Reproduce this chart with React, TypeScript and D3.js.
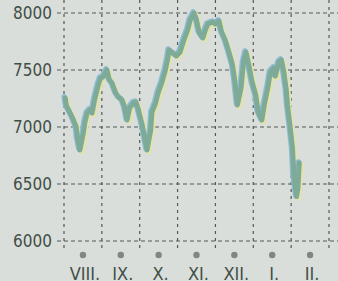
import React, { useRef, useEffect } from 'react';
import * as d3 from 'd3';

const months = ['VIII.', 'IX.', 'X.', 'XI.', 'XII.', 'I.', 'II.'];
const monthStarts = ['2010-08-01', '2010-09-01', '2010-10-01', '2010-11-01', '2010-12-01', '2011-01-01', '2011-02-01', '2011-03-01'];
const yTicks = [6000, 6500, 7000, 7500, 8000];

const dates = [
  '2010-08-02', '2010-08-03', '2010-08-06', '2010-08-08', '2010-08-11', '2010-08-12', '2010-08-14',
  '2010-08-17', '2010-08-18', '2010-08-20', '2010-08-22', '2010-08-24', '2010-08-26', '2010-08-29',
  '2010-08-31', '2010-09-02', '2010-09-04', '2010-09-05', '2010-09-07', '2010-09-09', '2010-09-12',
  '2010-09-14', '2010-09-17', '2010-09-19', '2010-09-21', '2010-09-23', '2010-09-26', '2010-09-28',
  '2010-09-30', '2010-10-03', '2010-10-05', '2010-10-07', '2010-10-10', '2010-10-11', '2010-10-14',
  '2010-10-16', '2010-10-19', '2010-10-22', '2010-10-24', '2010-10-25', '2010-10-28', '2010-10-31',
  '2010-11-03', '2010-11-06', '2010-11-09', '2010-11-11', '2010-11-14', '2010-11-16', '2010-11-18',
  '2010-11-21', '2010-11-23', '2010-11-25', '2010-11-29', '2010-12-01', '2010-12-04', '2010-12-06',
  '2010-12-09', '2010-12-12', '2010-12-15', '2010-12-17', '2010-12-19', '2010-12-22', '2010-12-24',
  '2010-12-26', '2010-12-28', '2010-12-31', '2011-01-03', '2011-01-05', '2011-01-08', '2011-01-10',
  '2011-01-13', '2011-01-15', '2011-01-18', '2011-01-19', '2011-01-22', '2011-01-24', '2011-01-26',
  '2011-01-28', '2011-01-29', '2011-01-31', '2011-02-02', '2011-02-03', '2011-02-05', '2011-02-06',
  '2011-02-07',
];
const values = [
  7255, 7184, 7123, 7079, 7000, 6904, 6798,
  6956, 7035, 7123, 7149, 7123, 7237, 7368,
  7430, 7439, 7482, 7500, 7412, 7386, 7298,
  7263, 7237, 7175, 7061, 7167, 7211, 7219,
  7149, 7018, 6912, 6798, 6974, 7132, 7211,
  7298, 7386, 7500, 7605, 7675, 7649, 7623,
  7658, 7763, 7851, 7939, 8000, 7939, 7833,
  7781, 7851, 7904, 7921, 7904, 7930, 7833,
  7763, 7658, 7544, 7395, 7193, 7342, 7570,
  7658, 7561, 7395, 7281, 7132, 7061, 7193,
  7351, 7482, 7518, 7447, 7570, 7588, 7482,
  7325, 7193, 7018, 6816, 6579, 6390, 6465,
  6684,
];

// position in months, counted from the start of VIII.
const monthPos = (s: string) => {
  const d = new Date(s + 'T00:00:00');
  const first = new Date(monthStarts[0] + 'T00:00:00');
  const idx = (d.getFullYear() - first.getFullYear()) * 12 + d.getMonth() - first.getMonth();
  const days = new Date(d.getFullYear(), d.getMonth() + 1, 0).getDate();
  return idx + (d.getDate() - 1) / days;
};

const W = 338;
const H = 281;

const App = () => {
  const ref = useRef<SVGSVGElement>(null);

  useEffect(() => {
    document.body.style.margin = '0';
    const svg = d3.select(ref.current);
    svg.selectAll('*').remove();

    const x = d3.scaleLinear().domain([0, monthStarts.length - 1]).range([64, 329]);
    const y = d3.scaleLinear().domain([6000, 8000]).range([241, 13]);
    const textColor = '#414e47';
    const font = '"Liberation Sans Narrow", "DejaVu Sans Condensed", sans-serif';

    svg.append('rect').attr('width', W).attr('height', H).attr('fill', '#dadedb');

    // horizontal grid
    svg.append('g')
      .selectAll('line')
      .data(yTicks)
      .join('line')
      .attr('x1', 57).attr('x2', W)
      .attr('y1', d => y(d)).attr('y2', d => y(d))
      .attr('stroke', '#545955')
      .attr('stroke-width', 1.2)
      .attr('stroke-dasharray', '4,3');

    // vertical grid at month boundaries
    svg.append('g')
      .selectAll('line')
      .data(monthStarts)
      .join('line')
      .attr('x1', (d, i) => x(i)).attr('x2', (d, i) => x(i))
      .attr('y1', 0).attr('y2', 251)
      .attr('stroke', '#545955')
      .attr('stroke-width', 1.2)
      .attr('stroke-dasharray', '3,4');

    svg.append('g')
      .attr('font-family', font)
      .attr('font-size', 17)
      .attr('fill', textColor)
      .attr('text-anchor', 'end')
      .selectAll('text')
      .data(yTicks)
      .join('text')
      .attr('x', 52)
      .attr('y', d => y(d))
      .attr('dy', '0.36em')
      .text(d => d);

    // month markers and labels
    svg.append('g')
      .selectAll('circle')
      .data(months)
      .join('circle')
      .attr('cx', (d, i) => x(i + 0.5))
      .attr('cy', 255)
      .attr('r', 3.2)
      .attr('fill', '#7f8783');

    svg.append('g')
      .attr('font-family', font)
      .attr('font-size', 18)
      .attr('fill', textColor)
      .attr('text-anchor', 'middle')
      .selectAll('text')
      .data(months)
      .join('text')
      .attr('x', (d, i) => x(i + 0.5) + 2)
      .attr('y', 280)
      .text(d => d);

    const pts = dates.map((d, i) => [monthPos(d), values[i]] as [number, number]);
    const line = d3.line<[number, number]>()
      .x(d => x(d[0]))
      .y(d => y(d[1]));

    const g = svg.append('g').attr('fill', 'none').attr('stroke-linejoin', 'round').attr('stroke-linecap', 'round');
    g.append('path').attr('d', line(pts)).attr('stroke', '#e4e3a6').attr('stroke-width', 5.5).attr('transform', 'translate(1.5,1.5)');
    g.append('path').attr('d', line(pts)).attr('stroke', '#8dbcd4').attr('stroke-width', 5.5).attr('transform', 'translate(-1,-1)');
    g.append('path').attr('d', line(pts)).attr('stroke', '#7dab98').attr('stroke-width', 5);
  }, []);

  return <svg ref={ref} width={W} height={H} style={{ display: 'block' }} />;
};

export default App;
